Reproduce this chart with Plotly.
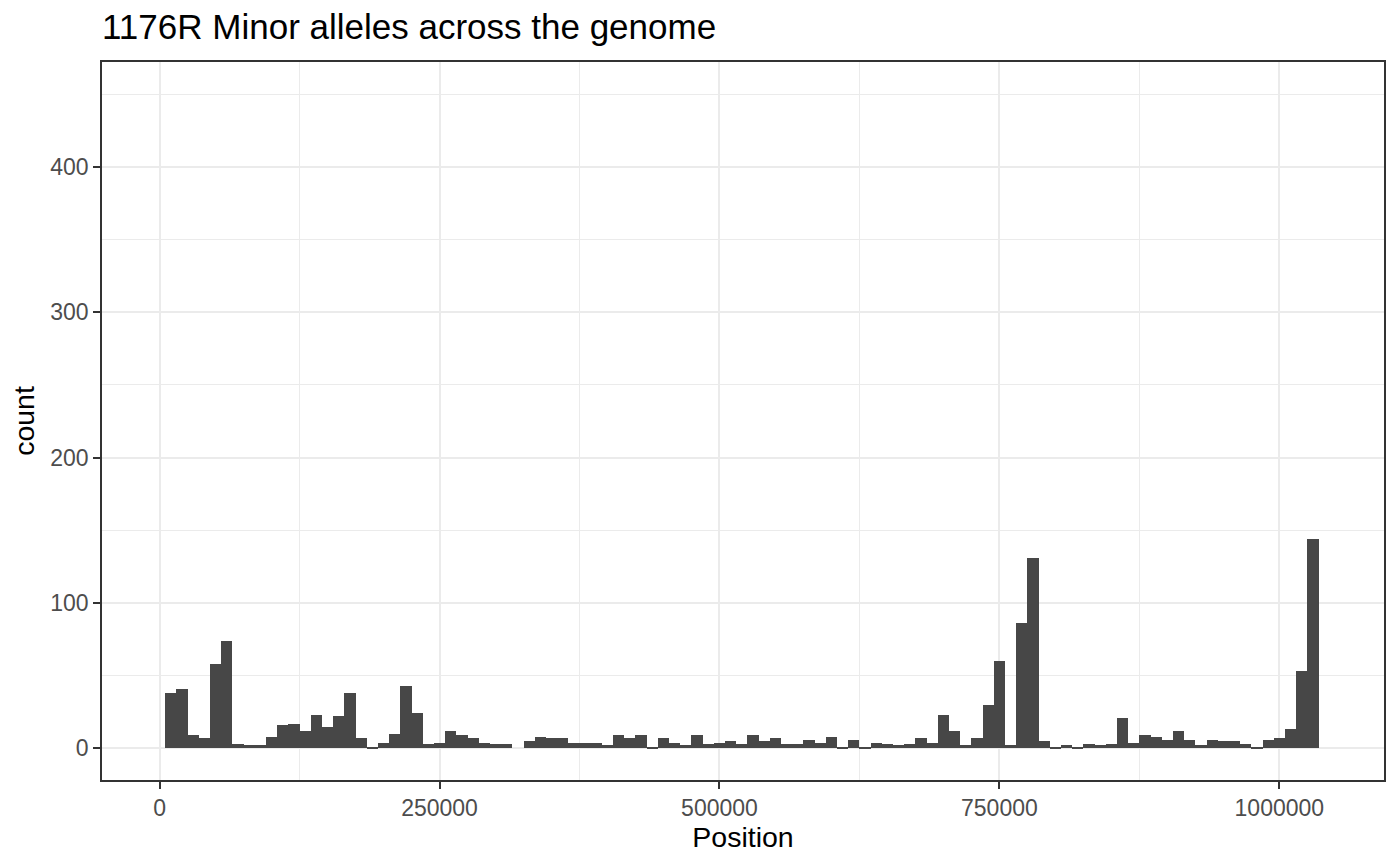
import plotly.graph_objects as go

# histogram counts, binwidth 10000, bins centred on multiples of 10000
bin_width = 10000
counts = [
    38, 41, 9, 7, 58, 74, 3, 2, 2, 8,
    16, 17, 12, 23, 15, 22, 38, 7, 1, 4,
    10, 43, 24, 3, 4, 12, 9, 7, 4, 3,
    3, 0, 5, 8, 7, 7, 4, 4, 4, 2,
    9, 7, 9, 1, 7, 4, 2, 9, 3, 4,
    5, 3, 9, 5, 7, 3, 3, 6, 4, 8,
    1, 6, 1, 4, 3, 2, 3, 7, 4, 23,
    12, 2, 7, 30, 60, 2, 86, 131, 5, 1,
    2, 1, 3, 2, 3, 21, 4, 9, 8, 6,
    12, 6, 2, 6, 5, 5, 3, 1, 6, 7,
    13, 53, 144,
]
positions = [bin_width * (i + 1) for i in range(len(counts))]

x_ticks = [0, 250000, 500000, 750000, 1000000]
y_ticks = [0, 100, 200, 300, 400]

title_text = "1176R Minor alleles across the genome"
font_family = "Liberation Sans, Arial, sans-serif"

fig = go.Figure()
fig.add_trace(go.Bar(
    x=positions,
    y=counts,
    width=bin_width,
    marker=dict(color="#474747", line=dict(width=0)),
    hoverinfo="x+y",
))

grid_major = "#EBEBEB"
axis_common = dict(
    showline=True,
    mirror=True,
    linecolor="#333333",
    linewidth=1.5,
    ticks="outside",
    ticklen=7,
    tickwidth=2.2,
    tickcolor="#333333",
    tickfont=dict(size=23, color="#4D4D4D", family=font_family),
    showgrid=True,
    gridcolor=grid_major,
    gridwidth=2.4,
    zeroline=False,
    title_font=dict(size=28.5, color="black", family=font_family),
)

# the page body adds an 8px offset, margins are shifted to compensate
fig.update_layout(
    width=1400,
    height=865,
    margin=dict(l=94, r=24, t=54, b=93),
    paper_bgcolor="white",
    plot_bgcolor="white",
    bargap=0,
    showlegend=False,
    font=dict(family=font_family),
    title=dict(
        text=title_text,
        x=0,
        xref="paper",
        xanchor="left",
        y=1 - 19 / 865,
        yref="container",
        yanchor="middle",
        font=dict(size=35, color="black", family=font_family),
    ),
)

fig.update_xaxes(
    **axis_common,
    range=[-51430, 1093480],
    tickmode="array",
    tickvals=x_ticks,
    ticktext=[str(v) for v in x_ticks],
    minor=dict(dtick=125000, tick0=0, showgrid=True, gridcolor=grid_major, gridwidth=1.2, ticklen=0),
    title=dict(text="Position", standoff=6),
)
fig.update_yaxes(
    **axis_common,
    range=[-21.8, 472.2],
    tickmode="array",
    tickvals=y_ticks,
    ticktext=[str(v) for v in y_ticks],
    minor=dict(dtick=50, tick0=0, showgrid=True, gridcolor=grid_major, gridwidth=1.2, ticklen=0),
    title=dict(text="count", standoff=10),
)

fig.write_html("out.html")
